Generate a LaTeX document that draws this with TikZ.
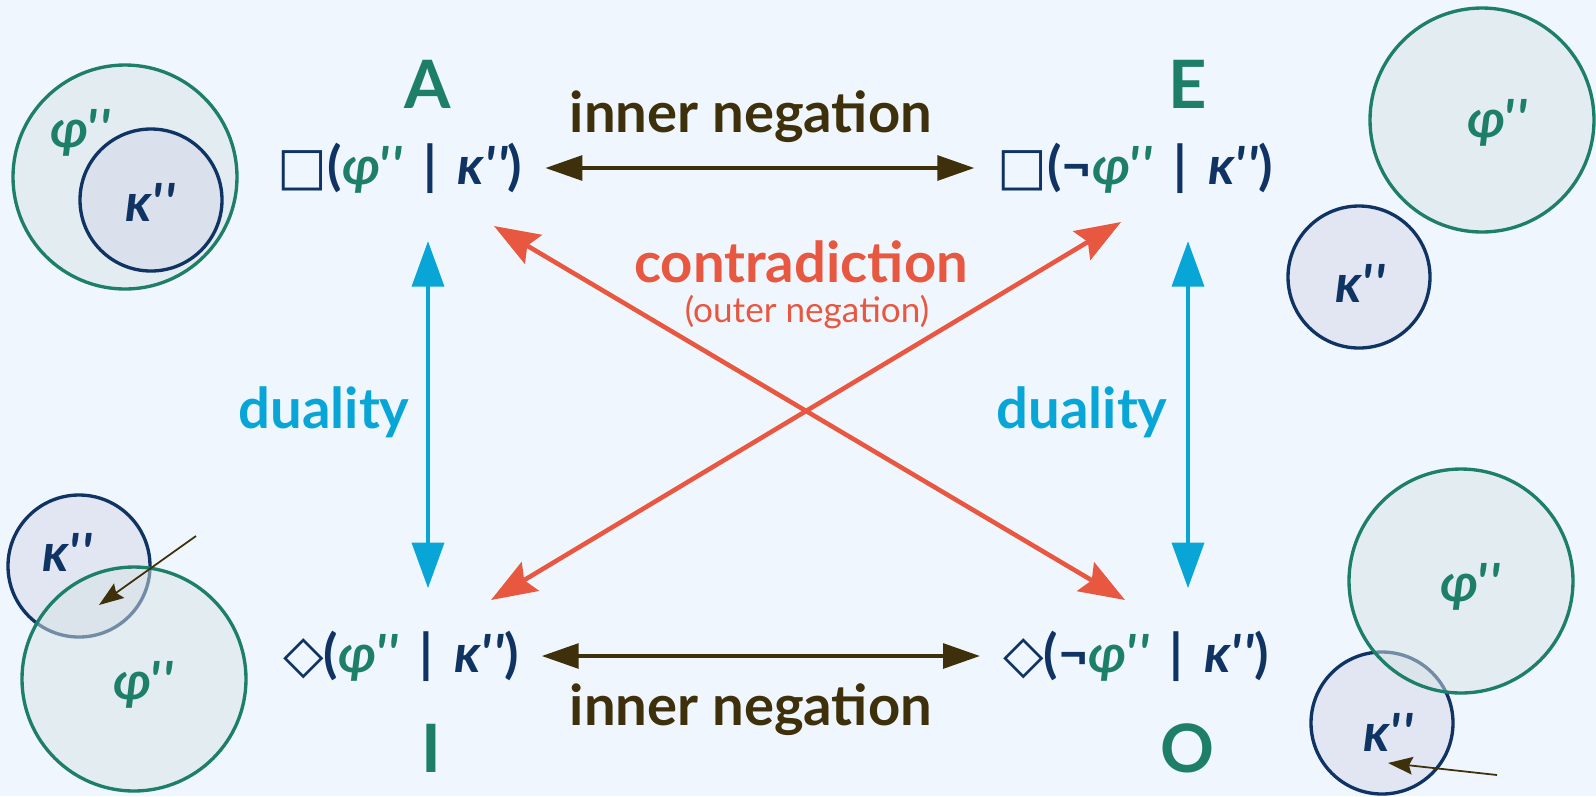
\documentclass[tikz,border=0pt]{standalone}
\usepackage{fontspec}
\setmainfont{Lato}
\newfontfamily\fml{Lato}
\newfontfamily\symf{DejaVu Sans}
\usetikzlibrary{arrows.meta}

\definecolor{bgc}{RGB}{240,246,253}
\definecolor{tealc}{RGB}{30,127,104}
\definecolor{navyc}{RGB}{15,52,100}
\definecolor{brownc}{RGB}{62,48,10}
\definecolor{cyanc}{RGB}{8,166,214}
\definecolor{redc}{RGB}{232,88,64}
\definecolor{phifill}{RGB}{214,228,230}
\definecolor{kapfill}{RGB}{212,216,233}

\newcommand{\vphi}{{\color{tealc}\fml\bfseries\itshape φ'\kern0.04em'}}
\newcommand{\vkap}{{\color{navyc}\fml\bfseries\itshape κ'\kern0.04em'}}
\newcommand{\nec}{{\symf\mdseries □}}
\newcommand{\pos}{{\symf\mdseries ◇}}
\newcommand{\given}{\hspace{0.4em}|\hspace{0.4em}}

\begin{document}
\begin{tikzpicture}[x=0.02cm, y=-0.02cm,
      vtx/.style={inner sep=0, text=tealc, font=\fontsize{38}{38}\selectfont\bfseries},
      formula/.style={inner sep=0, text=navyc, font=\fontsize{30}{30}\selectfont\bfseries},
      lbl/.style={inner sep=0, font=\fontsize{32}{32}\selectfont\bfseries},
      setlbl/.style={inner sep=0, font=\fontsize{30}{30}\selectfont},
      phiset/.style={draw=tealc, line width=1.9pt, fill=phifill, fill opacity=0.5},
      kapset/.style={draw=navyc, line width=1.9pt, fill=kapfill, fill opacity=0.5},
      innerneg/.style={{Triangle[length=21pt,width=14pt]}-{Triangle[length=21pt,width=14pt]}, line width=2.3pt, draw=brownc, shorten <=13pt, shorten >=13pt},
      dual/.style={{Triangle[length=26pt,width=18pt]}-{Triangle[length=26pt,width=18pt]}, line width=2.8pt, draw=cyanc},
      contra/.style={{Stealth[length=26pt,width=19pt,inset=4pt]}-{Stealth[length=26pt,width=19pt,inset=4pt]}, line width=2.6pt, draw=redc},
      pointer/.style={-{Stealth[length=14pt,width=10pt,inset=2pt]}, line width=1pt, draw=brownc}
    ]
      \fill[bgc] (0,0) rectangle (1596,796);

      % venn pictures
      \draw[phiset] (125,177) circle (112);
      \draw[kapset] (151,200) circle (71);
      \node[setlbl] (sA1) at (80,133) {\vphi};
      \node[setlbl] (sA2) at (150,202) {\vkap};

      \draw[phiset] (1482,120) circle (112);
      \draw[kapset] (1359,277) circle (71);
      \node[setlbl] (sE1) at (1497,123) {\vphi};
      \node[setlbl] (sE2) at (1360,283) {\vkap};

      \draw[kapset] (79,566) circle (71);
      \draw[phiset] (134,679) circle (112);
      \node[setlbl] (sI1) at (143,685) {\vphi};
      \node[setlbl] (sI2) at (67,552) {\vkap};
      \coordinate (pI0) at (196,536);
      \coordinate (pI1) at (99,605);
      \draw[pointer] (pI0) -- (pI1);

      \draw[kapset] (1382,723) circle (71);
      \draw[phiset] (1461,581) circle (112);
      \node[setlbl] (sO1) at (1470,587) {\vphi};
      \node[setlbl] (sO2) at (1388,732) {\vkap};
      \coordinate (pO0) at (1497,775);
      \coordinate (pO1) at (1388,763);
      \draw[pointer] (pO0) -- (pO1);

      % corners of the square
      \node[vtx] (lA) at (428,84) {A};
      \node[vtx] (lE) at (1188,84) {E};
      \node[vtx] (lI) at (431,748) {I};
      \node[vtx] (lO) at (1187,748) {O};

      \node[formula] (fA) at (400,168) {\nec(\vphi\given\vkap)};
      \node[formula] (fE) at (1135,168) {\nec(¬\vphi\given\vkap)};
      \node[formula] (fI) at (401,656) {\pos(\vphi\given\vkap)};
      \node[formula] (fO) at (1136,656) {\pos(¬\vphi\given\vkap)};

      % relations
      \node[lbl, text=brownc] (nTop) at (751,117) {inner negation};
      \node[lbl, text=brownc] (nBot) at (751,710) {inner negation};
      \node[lbl, text=cyanc] (dL) at (324,412) {duality};
      \node[lbl, text=cyanc] (dR) at (1082,412) {duality};
      \node[lbl, text=redc] (cTxt) at (801,262) {contradiction};
      \node[inner sep=0, text=redc, font=\fontsize{20}{20}\selectfont] (cSub) at (807,312) {(outer negation)};

      \draw[innerneg] (fA) -- (fE);
      \draw[innerneg] (fI) -- (fO);

      \draw[dual] ([yshift=-27pt]lA |- fA.south) -- ([yshift=24pt]lA |- fI.north);
      \draw[dual] ([yshift=-27pt]lE |- fE.south) -- ([yshift=24pt]lE |- fO.north);

      \coordinate (xA) at (494,226);
      \coordinate (xO) at (1125,600);
      \coordinate (xE) at (1121,222);
      \coordinate (xI) at (491,600);
      \draw[contra] (xA) -- (xO);
      \draw[contra] (xI) -- (xE);
    \end{tikzpicture}
\end{document}
